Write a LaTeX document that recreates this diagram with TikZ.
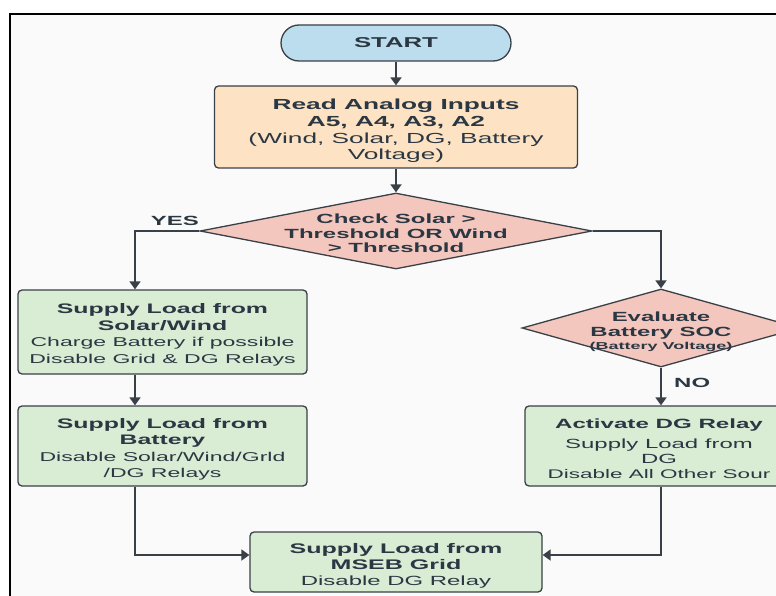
\documentclass[tikz,border=0pt]{standalone}
\usepackage{fontspec}
\setmainfont{Liberation Sans}[FakeStretch=1.8]
\usetikzlibrary{shapes.geometric,arrows.meta}
\definecolor{ink}{HTML}{2B3743}
\definecolor{edge}{HTML}{3A4047}
\definecolor{startblue}{HTML}{BCDDEE}
\definecolor{readorange}{HTML}{FDE3C3}
\definecolor{chkpink}{HTML}{F3C7BE}
\definecolor{boxgreen}{HTML}{D9EDD5}
\definecolor{paper}{HTML}{FAFAFA}
\begin{document}
\begin{tikzpicture}[x=1pt,y=-1pt,
  box/.style={draw=edge,line width=1.3pt,rounded corners=4pt,inner sep=0pt,fill=boxgreen},
  dmd/.style={diamond,draw=edge,line width=1.3pt,fill=chkpink,inner sep=0pt},
  txt/.style={text=ink,align=center,inner sep=0pt,font=\fontsize{12.8}{16.5}\selectfont},
  arr/.style={draw=edge,line width=1.8pt,-{Triangle[length=8pt,width=11pt]}},
  lbl/.style={text=ink,font=\fontsize{13.3}{14.5}\selectfont\bfseries}]
\useasboundingbox (0,0) rectangle (776,596);
\fill[white] (0,0) rectangle (776,596);
\fill[paper] (10,14) rectangle (776,596);
\draw[line width=2pt] (10,597) -- (10,14) -- (780,14); %frame
\node[box,fill=startblue,rounded corners=18pt,minimum width=230pt,minimum height=36pt,text=ink,font=\fontsize{14.3}{16}\selectfont\bfseries] (start) at (396,43) {START};
\node[box,fill=readorange,minimum width=363pt,minimum height=82pt] (read) at (396,127) {};
\node[txt,font=\fontsize{14.6}{16.8}\selectfont] (readtxt) at (396,131) {\textbf{Read Analog Inputs}\\\textbf{A5, A4, A3, A2}\\(Wind, Solar, DG, Battery\\Voltage)};
\node[dmd,minimum width=392pt,minimum height=76pt] (chk) at (396,231) {};
\node[lbl,align=center] (chktxt) at (396,233.5) {Check Solar >\\Threshold OR Wind\\> Threshold};
\node[box,minimum width=289pt,minimum height=84pt] (solar) at (162.5,332) {};
\node[txt] (solartxt) at (162.5,335) {{\fontsize{13.8}{16.5}\selectfont\bfseries Supply Load from}\\{\fontsize{13.8}{16.5}\selectfont\bfseries Solar/Wind}\\Charge Battery if possible\\Disable Grid \& DG Relays};
\node[box,minimum width=289pt,minimum height=80pt] (batt) at (162.5,446) {};
\node[txt,font=\fontsize{12.8}{16.4}\selectfont] (batttxt) at (162.5,449.5) {{\fontsize{13.8}{16.4}\selectfont\bfseries Supply Load from}\\{\fontsize{13.8}{16.4}\selectfont\bfseries Battery}\\Disable Solar/Wind/Grld\\/DG Relays};
\node[dmd,minimum width=278pt,minimum height=78pt] (soc) at (661,328) {};
\node[lbl,align=center,font=\fontsize{13.3}{15.5}\selectfont\bfseries] (soctxt) at (661,331.5) {Evaluate\\Battery SOC\\[-2.5pt]{\fontsize{10}{14}\selectfont (Battery Voltage)}};
\node[box,minimum width=272pt,minimum height=80pt] (dg) at (661,446) {};
\node[txt,font=\fontsize{13.3}{15}\selectfont] (dgtxt) at (659,448.5) {{\fontsize{13.4}{15}\selectfont\bfseries Activate DG Relay}\\[5pt]Supply Load from\\DG\\{\fontsize{12.5}{15}\selectfont Disable All Other Sour}};
\node[box,minimum width=292pt,minimum height=60pt] (mseb) at (396,562) {};
\node[txt,font=\fontsize{13.3}{16.3}\selectfont] (msebtxt) at (396,566) {{\fontsize{13.9}{16.3}\selectfont\bfseries Supply Load from}\\{\fontsize{13.9}{16.3}\selectfont\bfseries MSEB Grid}\\Disable DG Relay};
\draw[arr] (start) -- (read);
\draw[arr] (read) -- (chk);
\draw[arr] (chk.west) -| node[lbl,pos=0.19,above=1pt]{YES} ([xshift=-27.5pt]solar.north); %yes
\draw[arr] (chk.east) -| (soc.north); %no
\draw[arr] ([xshift=-27.5pt]solar.south) -- ([xshift=-27.5pt]batt.north);
\draw[arr] (soc.south) -- node[lbl,pos=0.41,right=9pt]{NO} (dg.north);
\draw[arr] ([xshift=-27.5pt]batt.south) |- ([yshift=7pt]mseb.west);
\draw[arr] (dg.south) |- ([yshift=7pt]mseb.east);
\end{tikzpicture}
\end{document}
